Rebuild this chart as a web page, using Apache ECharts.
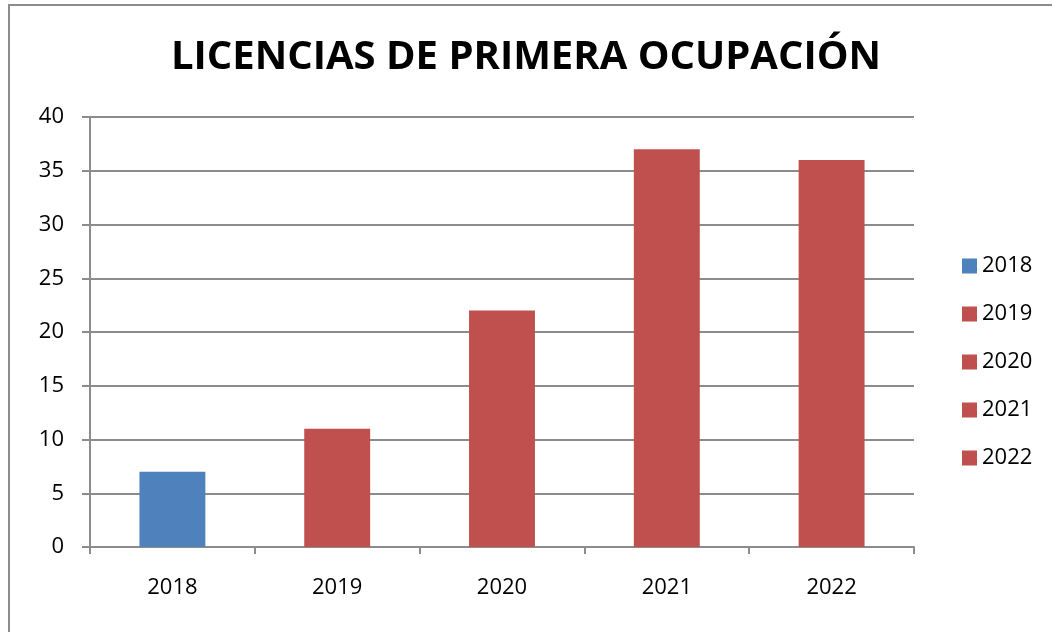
<!DOCTYPE html>
<html>
<head>
<meta charset="utf-8">
<script src="https://cdn.jsdelivr.net/npm/echarts@6/dist/echarts.min.js"></script>
<style>
  html, body { margin: 0; padding: 0; background: #fff; }
  #chart { width: 1052px; height: 632px; }
  .frame {
    position: absolute; left: 8px; top: 4px;
    width: 1100px; height: 700px;
    border: 2px solid #8c8c8c; box-sizing: border-box;
    pointer-events: none;
  }
</style>
</head>
<body>
<div id="chart"></div>
<div class="frame"></div>
<script>
const years = ["2018", "2019", "2020", "2021", "2022"];
const licencias = [7, 11, 22, 37, 36];
const barColors = ["#4f81bd", "#c0504d", "#c0504d", "#c0504d", "#c0504d"];
const yTicks = { min: 0, max: 40, interval: 5 };

const chart = echarts.init(document.getElementById("chart"));

// one series per year so the legend lists each year with its colour
const series = years.map((y, i) => ({
  name: y,
  type: "bar",
  stack: "total",
  barWidth: "40%",
  itemStyle: { color: barColors[i] },
  data: years.map((_, j) => (j === i ? licencias[i] : null)),
}));

chart.setOption({
  animation: false,
  textStyle: { fontFamily: "Open Sans" },
  title: {
    text: "LICENCIAS DE PRIMERA OCUPACIÓN",
    left: "center",
    top: 33,
    textStyle: { fontSize: 40, fontWeight: "bold", color: "#000", fontFamily: "Open Sans" },
  },
  legend: {
    orient: "vertical",
    left: 957,
    top: 250,
    itemWidth: 15,
    itemHeight: 15,
    itemGap: 26,
    icon: "rect",
    textStyle: { fontSize: 22, color: "#000" },
  },
  grid: { left: 90, top: 117, right: 138, bottom: 85, containLabel: false },
  xAxis: {
    type: "category",
    data: years,
    axisLine: { lineStyle: { color: "#8c8c8c", width: 2 } },
    axisTick: { show: true, length: 7, lineStyle: { color: "#8c8c8c", width: 2 } },
    axisLabel: { fontSize: 22, color: "#000", margin: 30 },
  },
  yAxis: {
    type: "value",
    min: yTicks.min,
    max: yTicks.max,
    interval: yTicks.interval,
    axisLine: { show: true, lineStyle: { color: "#8c8c8c", width: 2 } },
    axisTick: { show: true, length: 8, lineStyle: { color: "#8c8c8c", width: 2 } },
    axisLabel: { fontSize: 22, color: "#000", margin: 26 },
    splitLine: { lineStyle: { color: "#8c8c8c", width: 2 } },
  },
  series: series,
});
</script>
</body>
</html>
